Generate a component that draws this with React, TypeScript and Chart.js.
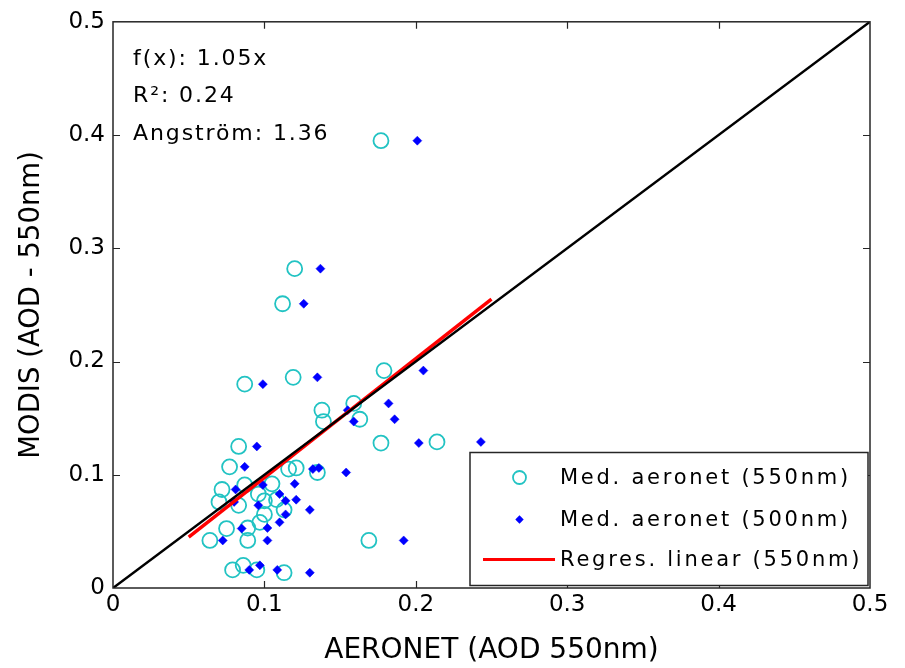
import { useEffect, useRef } from 'react';
import { Chart, registerables } from 'chart.js';

Chart.register(...registerables);

// MODIS AOD (550 nm) for each matched overpass
const modisAod = [
  0.395, 0.282, 0.251, 0.192, 0.186, 0.180, 0.163, 0.157, 0.149, 0.147,
  0.129, 0.128, 0.125, 0.107, 0.106, 0.105, 0.102, 0.092, 0.091, 0.087,
  0.083, 0.078, 0.077, 0.076, 0.073, 0.069, 0.065, 0.058, 0.053, 0.0525,
  0.042, 0.042, 0.042, 0.020, 0.016, 0.016, 0.0135,
];
// AERONET median AOD interpolated to 550 nm
const aeronet550 = [
  0.177, 0.120, 0.112, 0.179, 0.119, 0.087, 0.159, 0.138, 0.163, 0.139,
  0.214, 0.177, 0.083, 0.077, 0.121, 0.116, 0.135, 0.105, 0.087, 0.072,
  0.096, 0.108, 0.100, 0.070, 0.083, 0.113, 0.100, 0.097, 0.089, 0.075,
  0.089, 0.064, 0.169, 0.086, 0.079, 0.095, 0.113,
];
// AERONET median AOD at 500 nm
const aeronet500 = [
  0.201, 0.137, 0.126, 0.205, 0.135, 0.099, 0.182, 0.155, 0.186, 0.159,
  0.243, 0.202, 0.095, 0.087, 0.136, 0.132, 0.154, 0.120, 0.099, 0.081,
  0.110, 0.121, 0.114, 0.080, 0.096, 0.130, 0.114, 0.110, 0.102, 0.085,
  0.102, 0.0725, 0.192, 0.097, 0.090, 0.1085, 0.130,
];

// Linear fit of the 550 nm medians and its span
const fitSlope = 1.05;
const fitIntercept = -0.0075;
const fitRange = [0.05, 0.25];
const rSquared = 0.24;
const angstrom = 1.36;
// 1:1 reference line
const identityRange = [0, 0.5];

const tickValues = [0, 0.1, 0.2, 0.3, 0.4, 0.5];

const FONT = '"DejaVu Sans", sans-serif';
const CYAN = '#22c3c3';
const BLUE = '#0000ff';
const RED = '#ff0000';

const seriesLabels = [
  'Med. aeronet (550nm)',
  'Med. aeronet (500nm)',
  'Regres. linear (550nm)',
];

const framePlugin = {
  id: 'frameAndNotes',
  afterDraw(chart: any) {
    const { ctx, chartArea: a, scales } = chart;
    const xs = scales.x;
    const ys = scales.y;
    ctx.save();

    // box around the plot area with inward ticks on every side
    ctx.strokeStyle = '#262626';
    ctx.lineWidth = 1.5;
    ctx.strokeRect(a.left, a.top, a.right - a.left, a.bottom - a.top);
    ctx.lineWidth = 1.2;
    const tl = 7;
    tickValues.slice(1, -1).forEach((v) => {
      const px = Math.round(xs.getPixelForValue(v)) + 0.5;
      const py = Math.round(ys.getPixelForValue(v)) + 0.5;
      ctx.beginPath();
      ctx.moveTo(px, a.bottom);
      ctx.lineTo(px, a.bottom - tl);
      ctx.moveTo(px, a.top);
      ctx.lineTo(px, a.top + tl);
      ctx.moveTo(a.left, py);
      ctx.lineTo(a.left + tl, py);
      ctx.moveTo(a.right, py);
      ctx.lineTo(a.right - tl, py);
      ctx.stroke();
    });

    // fit statistics
    ctx.fillStyle = '#000';
    ctx.font = `22px ${FONT}`;
    (ctx as any).letterSpacing = '1.9px';
    ctx.textAlign = 'left';
    ctx.textBaseline = 'alphabetic';
    const notes = [
      `f(x): ${fitSlope.toFixed(2)}x`,
      `R²: ${rSquared.toFixed(2)}`,
      `Angström: ${angstrom.toFixed(2)}`,
    ];
    const noteX = a.left + 20;
    notes.forEach((t, i) => ctx.fillText(t, noteX, a.top + 43 + i * 37.5));

    // legend box in the lower right corner
    const lx0 = 470;
    const ly0 = 452.5;
    const lx1 = 868;
    const ly1 = 585.5;
    ctx.fillStyle = '#fff';
    ctx.fillRect(lx0, ly0, lx1 - lx0, ly1 - ly0);
    ctx.strokeStyle = '#262626';
    ctx.lineWidth = 1.5;
    ctx.strokeRect(lx0, ly0, lx1 - lx0, ly1 - ly0);

    const markerX = 519.5;
    const rows = [477.5, 519.5, 559.5];

    ctx.strokeStyle = CYAN;
    ctx.lineWidth = 1.8;
    ctx.beginPath();
    ctx.arc(markerX, rows[0], 6.5, 0, Math.PI * 2);
    ctx.stroke();

    ctx.fillStyle = BLUE;
    ctx.beginPath();
    const d = 4.2;
    ctx.moveTo(markerX, rows[1] - d);
    ctx.lineTo(markerX + d, rows[1]);
    ctx.lineTo(markerX, rows[1] + d);
    ctx.lineTo(markerX - d, rows[1]);
    ctx.closePath();
    ctx.fill();

    ctx.strokeStyle = RED;
    ctx.lineWidth = 3;
    ctx.beginPath();
    ctx.moveTo(483, rows[2]);
    ctx.lineTo(555, rows[2]);
    ctx.stroke();

    ctx.fillStyle = '#000';
    ctx.font = `21px ${FONT}`;
    (ctx as any).letterSpacing = '2.75px';
    ctx.textBaseline = 'middle';
    seriesLabels.forEach((t, i) => ctx.fillText(t, 560, rows[i] + 1));

    ctx.restore();
  },
};

export default function App() {
  const canvasRef = useRef<HTMLCanvasElement | null>(null);

  useEffect(() => {
    document.body.style.margin = '0';
    const canvas = canvasRef.current;
    if (!canvas) return;

    const pts550 = aeronet550.map((x, i) => ({ x, y: modisAod[i] }));
    const pts500 = aeronet500.map((x, i) => ({ x, y: modisAod[i] }));
    const fitPts = fitRange.map((x) => ({ x, y: fitSlope * x + fitIntercept }));
    const idPts = identityRange.map((x) => ({ x, y: x }));

    const chart = new Chart(canvas, {
      type: 'scatter',
      data: {
        datasets: [
          {
            label: '1:1',
            data: idPts,
            showLine: true,
            borderColor: '#000',
            borderWidth: 2.5,
            pointRadius: 0,
            order: 0,
          },
          {
            label: seriesLabels[2],
            data: fitPts,
            showLine: true,
            borderColor: RED,
            borderWidth: 3.5,
            pointRadius: 0,
            order: 1,
          },
          {
            label: seriesLabels[1],
            data: pts500,
            pointStyle: 'rectRot',
            pointRadius: 4.5,
            backgroundColor: BLUE,
            borderColor: BLUE,
            borderWidth: 0.5,
            order: 2,
          },
          {
            label: seriesLabels[0],
            data: pts550,
            pointStyle: 'circle',
            pointRadius: 7.5,
            backgroundColor: 'rgba(0,0,0,0)',
            borderColor: CYAN,
            borderWidth: 1.8,
            order: 3,
          },
        ],
      },
      options: {
        animation: false,
        responsive: false,
        maintainAspectRatio: false,
        events: [],
        layout: { padding: { top: 20, right: 35, left: 0, bottom: 0 } },
        plugins: {
          legend: { display: false },
          tooltip: { enabled: false },
          title: { display: false },
        },
        scales: {
          x: {
            type: 'linear',
            min: 0,
            max: 0.5,
            afterBuildTicks: (s: any) => {
              s.ticks = tickValues.map((value) => ({ value }));
            },
            afterFit: (s: any) => {
              s.height = 80;
            },
            grid: { display: false, drawTicks: false },
            border: { display: false },
            ticks: {
              padding: 3,
              color: '#000',
              font: { family: FONT, size: 23 },
              callback: (v: any) => String(Number(Number(v).toFixed(1))),
            },
            title: {
              display: true,
              text: 'AERONET (AOD 550nm)',
              color: '#000',
              font: { family: FONT, size: 28 },
              padding: { top: 0, bottom: 0 },
            },
          },
          y: {
            type: 'linear',
            min: 0,
            max: 0.5,
            afterBuildTicks: (s: any) => {
              s.ticks = tickValues.map((value) => ({ value }));
            },
            afterFit: (s: any) => {
              s.width = 113;
            },
            grid: { display: false, drawTicks: false },
            border: { display: false },
            ticks: {
              padding: 8,
              color: '#000',
              font: { family: FONT, size: 23 },
              callback: (v: any) => String(Number(Number(v).toFixed(1))),
            },
            title: {
              display: true,
              text: 'MODIS (AOD - 550nm)',
              color: '#000',
              font: { family: FONT, size: 27.5 },
              padding: { top: 15, bottom: 0 },
            },
          },
        },
      },
      plugins: [framePlugin],
    });

    return () => chart.destroy();
  }, []);

  return (
    <div style={{ width: 905, height: 668, background: '#fff' }}>
      <canvas ref={canvasRef} width={905} height={668} style={{ display: 'block' }} />
    </div>
  );
}
